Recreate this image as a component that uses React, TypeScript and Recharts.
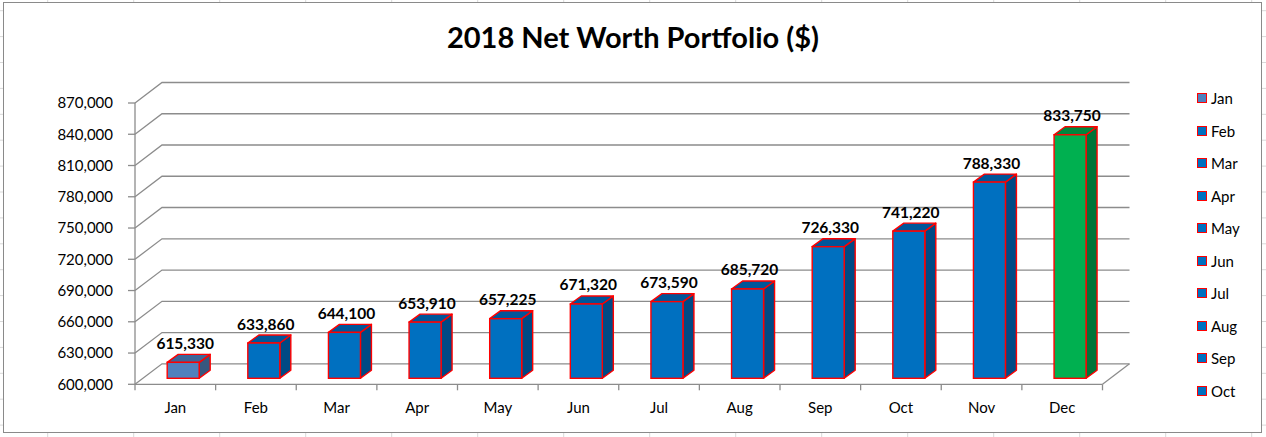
import React from "react";
import {
  BarChart,
  Bar,
  XAxis,
  YAxis,
  CartesianGrid,
  LabelList,
} from "recharts";

// data
const months = ["Jan", "Feb", "Mar", "Apr", "May", "Jun", "Jul", "Aug", "Sep", "Oct", "Nov", "Dec"];
const netWorth = [615330, 633860, 644100, 653910, 657225, 671320, 673590, 685720, 726330, 741220, 788330, 833750];
const yTicks = [600000, 630000, 660000, 690000, 720000, 750000, 780000, 810000, 840000, 870000];
const legendMonths = months.slice(0, 10); // Excel cut the legend off at Oct

const W = 1266;
const H = 437;
const PLOT_LEFT = 135;
const PLOT_RIGHT = 1102.5;
const PLOT_TOP = 103;
const PLOT_BOTTOM = 384.3;
const Y_AXIS_W = 60;
const X_AXIS_H = 30;
const BAND = (PLOT_RIGHT - PLOT_LEFT) / months.length;

// 3d offsets: wall depth, bar position in depth, bar depth
const DX = 27;
const DY = 20.5;
const BX = 8;
const BY = 6;
const BDX = 11;
const BDY = 8;

const FONT = "Lato, 'Open Sans', sans-serif";
const GRID = "#8c8c8c";

const chartData = months.map((m, i) => ({ month: m, value: netWorth[i] }));

const barColors = (i: number) => {
  if (i === 0) return { front: "#4F81BD", top: "#3D6699", side: "#37577F" };
  if (i === months.length - 1) return { front: "#00B050", top: "#00873D", side: "#007438" };
  return { front: "#0070C0", top: "#00569A", side: "#004A85" };
};

const Bar3D = (props: any) => {
  const { x, y, width, height, index } = props;
  const c = barColors(index);
  const fx = x + BX;
  const fy = y - BY;
  const top = `${fx},${fy} ${fx + width},${fy} ${fx + width + BDX},${fy - BDY} ${fx + BDX},${fy - BDY}`;
  const side = `${fx + width},${fy} ${fx + width + BDX},${fy - BDY} ${fx + width + BDX},${fy + height - BDY} ${fx + width},${fy + height}`;
  return (
    <g>
      <polygon points={side} fill={c.side} stroke="#FF0000" strokeWidth={1.4} strokeLinejoin="round" />
      <polygon points={top} fill={c.top} stroke="#FF0000" strokeWidth={1.4} strokeLinejoin="round" />
      <rect x={fx} y={fy} width={width} height={height} fill={c.front} stroke="#FF0000" strokeWidth={1.4} />
    </g>
  );
};

const renderWallLine = (props: any) => {
  const { x1, x2, y1, index } = props;
  const isFloor = Math.abs(y1 - PLOT_BOTTOM) < 1;
  return (
    <g key={`wall-${index}-${y1}`}>
      <polyline
        points={`${x1},${y1} ${x1 + DX},${y1 - DY} ${x2 + DX},${y1 - DY}`}
        fill="none"
        stroke={GRID}
        strokeWidth={1.3}
      />
      {isFloor && (
        <line x1={x2} y1={y1} x2={x2 + DX} y2={y1 - DY} stroke={GRID} strokeWidth={1.3} />
      )}
    </g>
  );
};

const renderXTick = (props: any) => {
  const { x, payload } = props;
  const last = payload.value === months[months.length - 1];
  return (
    <g>
      <line x1={x - BAND / 2} y1={PLOT_BOTTOM} x2={x - BAND / 2} y2={PLOT_BOTTOM + 6} stroke={GRID} strokeWidth={1.3} />
      {last && (
        <line x1={x + BAND / 2} y1={PLOT_BOTTOM} x2={x + BAND / 2} y2={PLOT_BOTTOM + 6} stroke={GRID} strokeWidth={1.3} />
      )}
      <text x={x} y={PLOT_BOTTOM + 29} textAnchor="middle" fill="#000" fontSize={15} fontFamily={FONT}>
        {payload.value}
      </text>
    </g>
  );
};

const renderValueLabel = (props: any) => {
  const { x, y, width, value } = props;
  return (
    <text
      x={x + BX + width / 2 + 2}
      y={y - BY - 13.5}
      textAnchor="middle"
      fill="#000"
      fontSize={15.5}
      fontWeight="bold"
      fontFamily={FONT}
    >
      {Number(value).toLocaleString("en-US")}
    </text>
  );
};

// faint spreadsheet cells behind the chart object
const colLines = Array.from({ length: 15 }, (_, k) => 47.7 + 86 * k);
const rowLines = Array.from({ length: 17 }, (_, k) => 10.7 + 25.9 * k);

export default function App() {
  return (
    <div style={{ position: "absolute", left: 0, top: 0, width: W, height: H, background: "#fff", overflow: "hidden" }}>
      <svg width={W} height={H} style={{ position: "absolute", left: 0, top: 0 }}>
        {colLines.map((cx) => (
          <line key={`c${cx}`} x1={cx} y1={0} x2={cx} y2={H} stroke="#d9d9d9" strokeWidth={1} />
        ))}
        {rowLines.map((ry) => (
          <line key={`r${ry}`} x1={0} y1={ry} x2={W} y2={ry} stroke="#d9d9d9" strokeWidth={1} />
        ))}
      </svg>
      <div
        style={{
          position: "absolute",
          left: 3,
          top: 2,
          width: 1259,
          height: 431,
          boxSizing: "border-box",
          border: "1.5px solid #8a8a8a",
          background: "#fff",
        }}
      />
      <div
        style={{
          position: "absolute",
          left: 0,
          top: 17,
          width: W,
          textAlign: "center",
          fontFamily: FONT,
          fontWeight: "bold",
          fontSize: 29,
          lineHeight: "40px",
          color: "#000",
        }}
      >
        2018 Net Worth Portfolio ($)
      </div>
      <div style={{ position: "absolute", left: 0, top: 0 }}>
        <BarChart
          width={W}
          height={H}
          data={chartData}
          barCategoryGap="30%"
          margin={{
            top: PLOT_TOP,
            right: W - PLOT_RIGHT,
            left: PLOT_LEFT - Y_AXIS_W,
            bottom: H - PLOT_BOTTOM - X_AXIS_H,
          }}
        >
          <CartesianGrid vertical={false} horizontal={renderWallLine} />
          <XAxis
            dataKey="month"
            height={X_AXIS_H}
            axisLine={{ stroke: GRID, strokeWidth: 1.3 }}
            tickLine={false}
            tick={renderXTick}
            interval={0}
          />
          <YAxis
            width={Y_AXIS_W}
            domain={[600000, 870000]}
            ticks={yTicks}
            interval={0}
            tickFormatter={(v: number) => v.toLocaleString("en-US")}
            axisLine={{ stroke: GRID, strokeWidth: 1.3 }}
            tickLine={{ stroke: GRID, strokeWidth: 1.3 }}
            tickSize={7}
            tickMargin={15}
            tick={{ fill: "#000", fontSize: 15, fontFamily: FONT }}
          />
          <Bar dataKey="value" shape={Bar3D} isAnimationActive={false}>
            <LabelList dataKey="value" content={renderValueLabel} />
          </Bar>
        </BarChart>
      </div>
      <div style={{ position: "absolute", left: 1197, top: 98.3 - 16.25, fontFamily: FONT, fontSize: 15, color: "#000" }}>
        {legendMonths.map((m, i) => (
          <div key={m} style={{ display: "flex", alignItems: "center", height: 32.5 }}>
            <span
              style={{
                display: "inline-block",
                width: 10,
                height: 10,
                boxSizing: "border-box",
                border: "1.5px solid #FF0000",
                background: i === 0 ? "#4F81BD" : "#0070C0",
                marginRight: 4,
              }}
            />
            <span>{m}</span>
          </div>
        ))}
      </div>
    </div>
  );
}
